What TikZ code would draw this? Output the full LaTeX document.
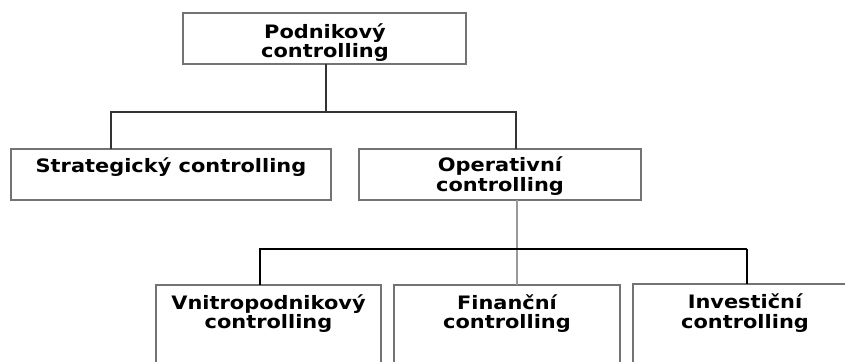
\documentclass[tikz,border=0pt]{standalone}
\usepackage{fontspec}
\setmainfont{DejaVu Sans}
\newfontfamily\boxfont[FakeStretch=1.13]{DejaVu Sans Bold}
\newcommand\mystrut{\rule{0pt}{15pt}}
\begin{document}
\begin{tikzpicture}[x=1pt,y=-1pt,
  box/.style={draw=black!55, line width=1.3pt, anchor=north west, inner sep=0pt, outer sep=0pt},
  lbl/.style={anchor=north, inner sep=0pt, align=center, text=black,
    font=\boxfont\fontsize{18.5}{19.3}\selectfont},
  conn/.style={draw=black!80, line width=1.2pt},
  conng/.style={draw=black!40, line width=1.3pt},
  connb/.style={draw=black, line width=2pt}]
\useasboundingbox (0,0) rectangle (845,361);
\clip (0,0) rectangle (845,361);
% boxes
\node[box, minimum width=283pt, minimum height=51pt] (top) at (183,13) {};
\node[box, minimum width=320pt, minimum height=51pt] (strat) at (11,149) {};
\node[box, minimum width=282pt, minimum height=51pt] (oper) at (359,149) {};
\node[box, minimum width=225pt, minimum height=110pt] (vnit) at (156,285) {};
\node[box, minimum width=226pt, minimum height=110pt] (fin) at (394,285) {};
\node[box, minimum width=224pt, minimum height=110pt] (inv) at (633,284) {};
% texts
\node[lbl] (ttop) at (325,23) {\mystrut Podnikový\\\mystrut controlling};
\node[lbl] (tstrat) at (171,157.7) {\mystrut Strategický controlling};
\node[lbl] (toper) at (500,156.7) {\mystrut Operativní\\\mystrut controlling};
\node[lbl] (tvnit) at (268.5,294) {\mystrut Vnitropodnikový\\\mystrut controlling};
\node[lbl] (tfin) at (507,294) {\mystrut Finanční\\\mystrut controlling};
\node[lbl] (tinv) at (745,293.5) {\mystrut Investiční\\\mystrut controlling};
% connectors
\coordinate (j1) at (326,112);
\coordinate (h1l) at (111,112);
\coordinate (h1r) at (516,112);
\draw[conn] (top.south -| j1) -- (j1);
\draw[conn] (strat.north -| h1l) |- (h1r) -- (oper.north -| h1r);
\coordinate (g) at (517,249);
\coordinate (h2l) at (260,249);
\coordinate (h2r) at (747,249);
\draw[conng] (oper.south -| g) -- (fin.north -| g);
\draw[conn, draw=black] (vnit.north -| h2l) |- (h2r);
\draw[connb] (h2r) -- (inv.north -| h2r);
\end{tikzpicture}
\end{document}
